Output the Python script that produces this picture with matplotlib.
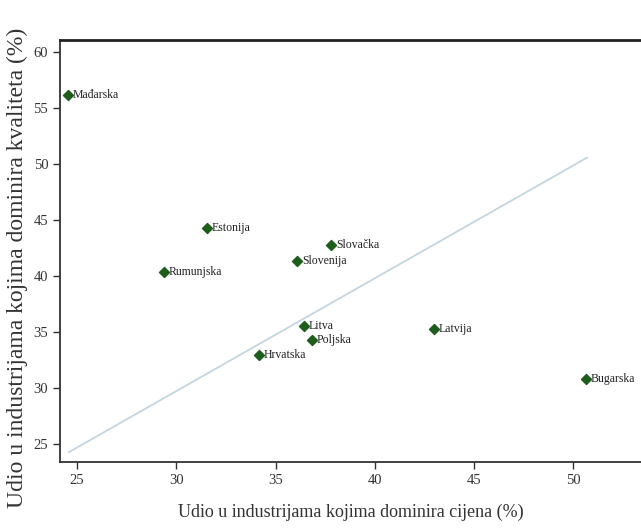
import matplotlib
matplotlib.use("Agg")
import matplotlib.pyplot as plt

# values
countries = ["Mađarska", "Estonija", "Rumunjska", "Slovenija", "Slovačka",
             "Litva", "Poljska", "Hrvatska", "Latvija", "Bugarska"]
price_share = [24.55, 31.55, 29.38, 36.08, 37.79, 36.43, 36.83, 34.16, 42.98, 50.63]
quality_share = [56.14, 44.3, 40.34, 41.33, 42.76, 35.5, 34.24, 32.9, 35.22, 30.83]

fit_x = [24.6, 50.68]
fit_y = [24.27, 50.57]

x_ticks = [25, 30, 35, 40, 45, 50]
y_ticks = [25, 30, 35, 40, 45, 50, 55, 60]

plt.rcParams['font.family'] = ['Liberation Serif', 'DejaVu Serif']

fig = plt.figure(figsize=(6.41, 5.30), dpi=100)
ax = fig.add_axes([0.0936, 0.1283, 0.9064, 0.7962])

ax.plot(fit_x, fit_y, color="#c3d6df", lw=1.3, zorder=1)
ax.scatter(price_share, quality_share, marker="D", s=26, color="#1d5e1d",
           edgecolors="#1d5e1d", zorder=3)
for name, x, y in zip(countries, price_share, quality_share):
    ax.annotate(name, (x, y), xytext=(3.5, 0), textcoords="offset points",
                va="center", ha="left", fontsize=8.5, color="#222222")

ax.set_xlim(24.14, 53.4)
ax.set_ylim(23.38, 61.08)
ax.set_xticks(x_ticks)
ax.set_yticks(y_ticks)
ax.tick_params(direction="out", length=5, width=1, color="#333333",
               labelsize=10.5, labelcolor="#333333")

ax.spines["right"].set_visible(False)
ax.spines["top"].set_linewidth(2)
ax.spines["top"].set_color("#222222")
for s in ("left", "bottom"):
    ax.spines[s].set_linewidth(1.3)
    ax.spines[s].set_color("#333333")

ax.set_xlabel("Udio u industrijama kojima dominira cijena (%)", fontsize=13,
              color="#333333", labelpad=12)
ax.set_ylabel("Udio u industrijama kojima dominira kvaliteta (%)", fontsize=17,
              color="#333333")
ax.yaxis.set_label_coords(-0.055, 0.46)

fig.savefig("out.png", dpi=100)
